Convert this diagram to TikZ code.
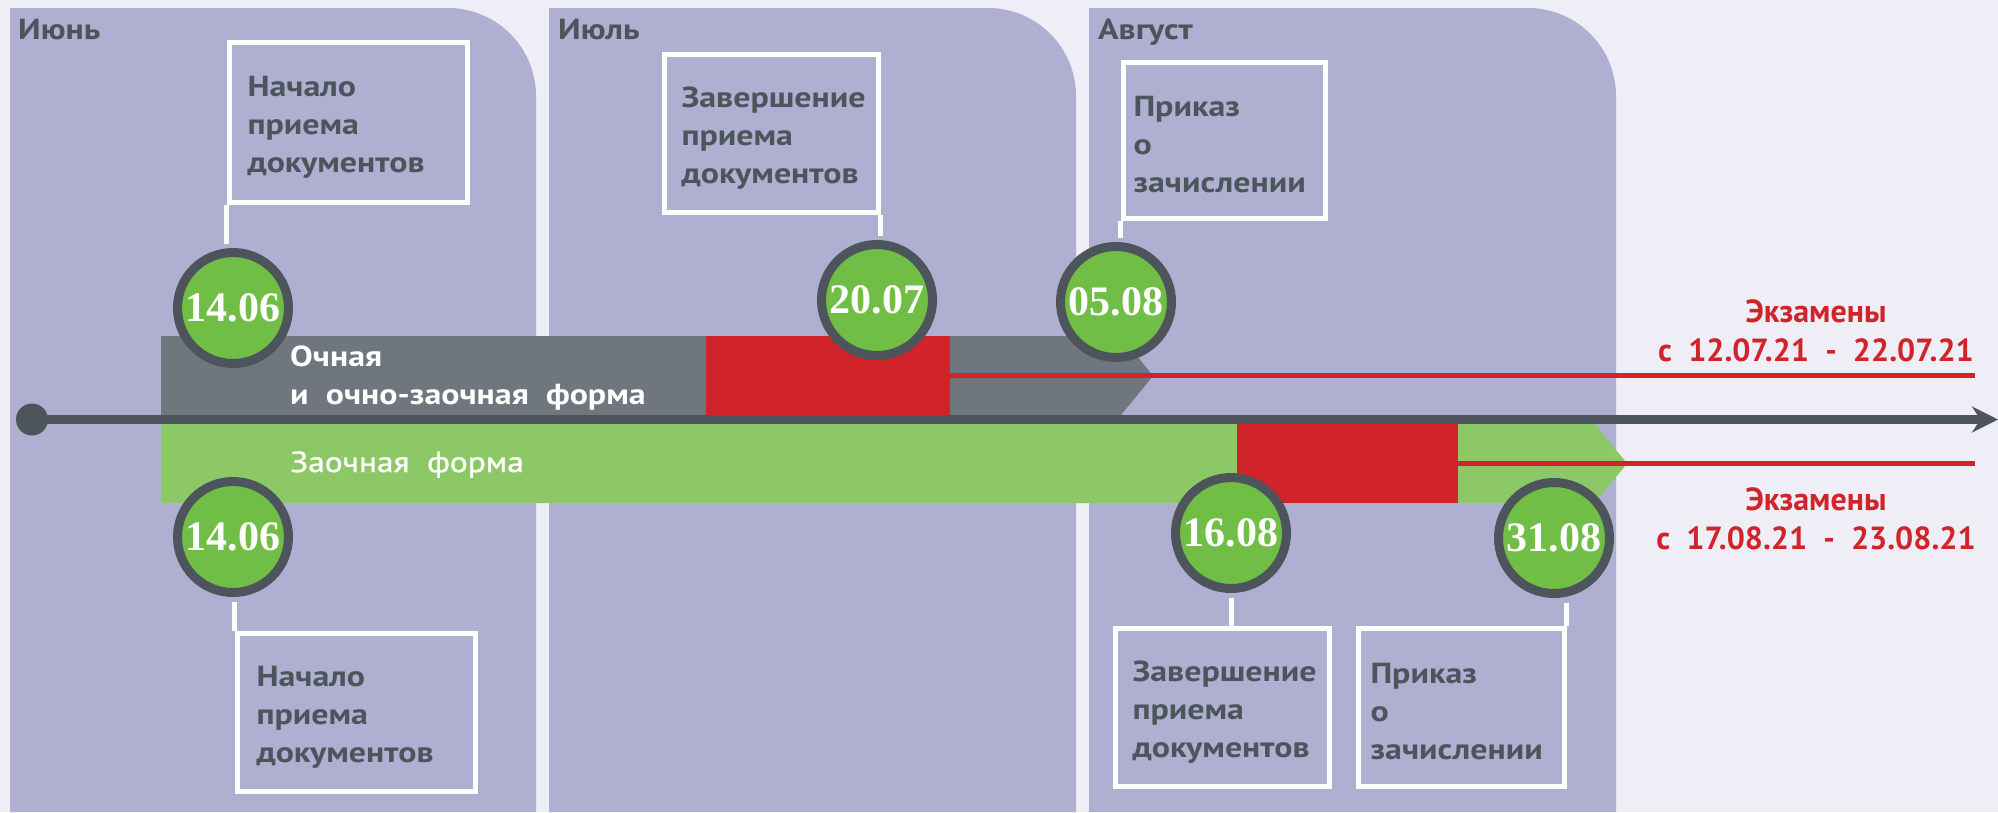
\documentclass[tikz,border=0pt]{standalone}
\usepackage{fontspec}
\setmainfont{PT Sans}[FakeStretch=1.17]
\newfontfamily\mediumfont{PT Sans}[FakeStretch=1.15, FakeBold=1.2]
\newfontfamily\examfont{PT Sans}
\newfontfamily\datefont{Liberation Serif}
\usetikzlibrary{arrows.meta}

\definecolor{pagebg}{HTML}{EFEEF7}
\definecolor{monthpanel}{HTML}{AFAFD1}
\definecolor{darkslate}{HTML}{4D545B}
\definecolor{ochgray}{HTML}{6F767D}
\definecolor{zaochgreen}{HTML}{8DC867}
\definecolor{dategreen}{HTML}{70BE45}
\definecolor{examred}{HTML}{D0232A}

\tikzset{
  docbox/.style={draw=white, line width=5pt, anchor=north west, align=left, inner ysep=0pt,
    text=darkslate, font=\bfseries\fontsize{29}{38}\selectfont,
    execute at begin node={\rule{0pt}{30pt}}},
  datecirc/.style={circle, fill=dategreen, draw=darkslate, line width=9pt, minimum size=111pt,
    inner sep=0pt, text=white, font=\datefont\bfseries\fontsize{42}{42}\selectfont},
  doclink/.style={draw=white, line width=5pt, shorten >=4.5pt},
  monthlabel/.style={anchor=base west, inner sep=0pt, text=darkslate, font=\bfseries\fontsize{29}{29}\selectfont},
  formlabel/.style={inner sep=0pt, text=white, align=left},
  examblock/.style={rectangle, fill=examred, inner sep=0pt},
  examlabel/.style={anchor=north, inner sep=0pt, align=center, text=examred,
    font=\examfont\bfseries\fontsize{32}{39}\selectfont},
  examline/.style={draw=examred, line width=5.5pt},
}

\begin{document}
\begin{tikzpicture}[x=1pt,y=1pt,yscale=-1]
\useasboundingbox (0,0) rectangle (1998,812);
\fill[pagebg] (0,0) rectangle (1998,812);

%Shape: month panels
\fill[monthpanel] (10,812) -- (10,8) -- (448,8) arc (-90:0:88) -- (536,812) -- cycle;
\fill[monthpanel] (549,812) -- (549,8) -- (988,8) arc (-90:0:88) -- (1076,812) -- cycle;
\fill[monthpanel] (1089,812) -- (1089,8) -- (1528,8) arc (-90:0:88) -- (1616,812) -- cycle;

%Shape: form bands
\fill[ochgray] (161,336) -- (1121,336) -- (1153,376) -- (1121,415) -- (161,415) -- cycle;
\fill[zaochgreen] (161,424) -- (1595,424) -- (1627,463.5) -- (1595,503) -- (161,503) -- cycle;

%Shape: exam blocks
\node[examblock, minimum width=244pt, minimum height=79pt] (exam1) at (828,375.5) {};
\node[examblock, minimum width=221pt, minimum height=79pt] (exam2) at (1347.5,463.5) {};
\coordinate (exam1end) at (1975,375.5);
\coordinate (exam2end) at (1975,463.5);
\draw[examline] (exam1.east) -- (exam1end);
\draw[examline] (exam2.east) -- (exam2end);

%Straight Lines: time axis
\node[circle, fill=darkslate, minimum size=32pt, inner sep=0pt] (axisstart) at (32,419.5) {};
\coordinate (axisend) at (1998,419.5);
\draw[darkslate, line width=9pt, -{Stealth[length=26pt, width=26pt]}] (axisstart.center) -- (axisend);

% Date circles
\node[datecirc] (d1top) at (233,308) {14.06};
\node[datecirc] (d2top) at (877,300) {20.07};
\node[datecirc] (d3top) at (1116,302) {05.08};
\node[datecirc] (d1bot) at (233,537) {14.06};
\node[datecirc] (d2bot) at (1231,533) {16.08};
\node[datecirc] (d3bot) at (1554,538) {31.08};

% Text boxes
\node[docbox, text width=201pt, inner xsep=18.5pt, minimum height=160pt] (b1top) at (226.5,39.5) {Начало\\приема\\документов};
\node[docbox, text width=179pt, inner xsep=17.5pt, minimum height=158pt] (b2top) at (661.5,51.5) {Завершение\\приема\\документов};
\node[docbox, text width=181pt, inner xsep=10.5pt, minimum height=156pt] (b3top) at (1120.5,59.5) {Приказ\\о\\зачислении};
\node[docbox, text width=199pt, inner xsep=19.5pt, minimum height=158pt] (b1bot) at (234.5,630.5) {Начало\\приема\\документов};
\node[docbox, text width=179pt, inner xsep=17.5pt, minimum height=158pt] (b2bot) at (1112.5,625.5) {Завершение\\приема\\документов};
\node[docbox, text width=181pt, inner xsep=12.5pt, minimum height=158pt] (b3bot) at (1355.5,625.5) {Приказ\\о\\зачислении};

%Straight Lines: box to date
\draw[doclink] (b1top.south west) -- (b1top.south west |- d1top.north);
\draw[doclink] (b2top.south east) -- (b2top.south east |- d2top.north);
\draw[doclink] (b3top.south west) -- (b3top.south west |- d3top.north);
\draw[doclink] (b1bot.north west) -- (b1bot.north west |- d1bot.south);
\draw[doclink] (d2bot.center |- b2bot.north) -- (d2bot.south);
\draw[doclink] (b3bot.north east) -- (b3bot.north east |- d3bot.south);

% Text Node
\node[monthlabel] (june) at (18,39) {Июнь};
\node[monthlabel] (july) at (558,39) {Июль};
\node[monthlabel] (august) at (1098,39) {Август};
% Text Node
\node[formlabel, anchor=north west, font=\bfseries\fontsize{29}{38}\selectfont] (ochlabel) at (290,346) {Очная\\и\ \ очно-заочная\ \ форма};
\node[formlabel, anchor=base west, font=\mediumfont\fontsize{29}{38}\selectfont] (zaochlabel) at (290,472) {Заочная\ \ форма};
% Text Node
\node[examlabel] (exam1label) at (1816,299) {Экзамены\\с\ \ 12.07.21\ \ -\ \ 22.07.21};
\node[examlabel] (exam2label) at (1816,487) {Экзамены\\с\ \ 17.08.21\ \ -\ \ 23.08.21};

\end{tikzpicture}
\end{document}
